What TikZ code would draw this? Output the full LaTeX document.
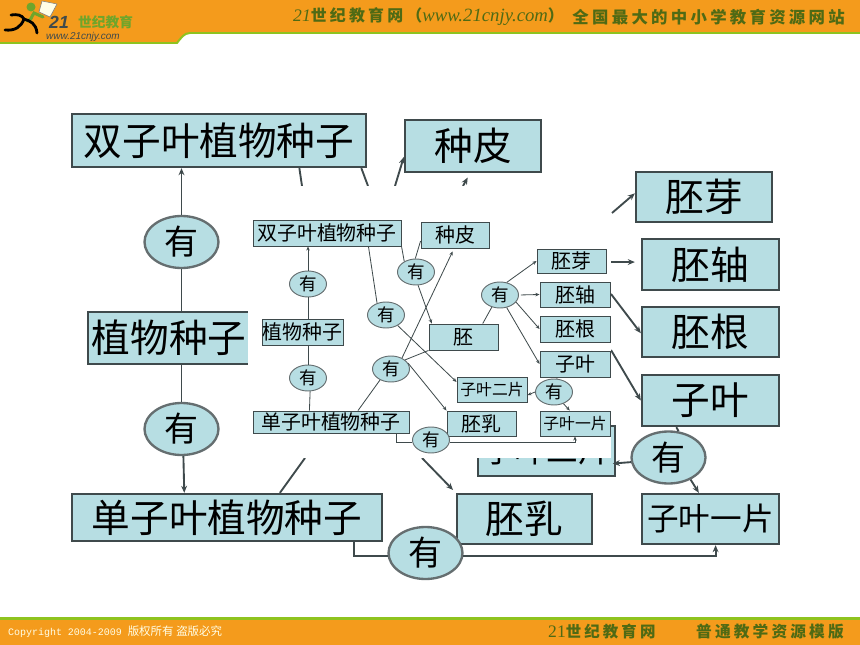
\documentclass[tikz,border=0pt]{standalone}
\usepackage{xcolor}
\usepackage{fontspec}
\usepackage{tikz}
\usetikzlibrary{shapes.geometric, arrows.meta}
\setmainfont{Liberation Serif}
\setsansfont{Liberation Sans}
\setmonofont{Liberation Mono}
\newfontfamily\cjk{Noto Sans CJK SC}
\newfontfamily\cjkwide[LetterSpace=20]{Noto Sans CJK SC}
\definecolor{boxblue}{HTML}{B7DEE3}
\definecolor{bandorange}{HTML}{F49B1C}
\definecolor{bandgreen}{HTML}{8FC31F}
\definecolor{titleolive}{HTML}{4F6A14}
\definecolor{logogreen}{HTML}{6FA52B}
\definecolor{inkgray}{HTML}{3F4A4C}

\begin{document}
\begin{tikzpicture}[x=0.03cm, y=-0.03cm,
            bigbox/.style 2 args={draw=inkgray, line width=2pt, fill=boxblue, rectangle, inner sep=0pt, minimum width=#1*0.03cm, minimum height=#2*0.03cm, font=\cjk\fontsize{33}{35}\selectfont},
            smallbox/.style 2 args={draw=inkgray, line width=0.8pt, fill=boxblue, rectangle, inner sep=0pt, minimum width=#1*0.03cm, minimum height=#2*0.03cm, font=\cjk\fontsize{17}{19}\selectfont},
            bigyou/.style={draw=inkgray!80, line width=2pt, fill=boxblue, ellipse, inner sep=0pt, minimum width=74*0.03cm, minimum height=52*0.03cm, font=\cjk\fontsize{29}{31}\selectfont},
            smallyou/.style={draw=inkgray!80, line width=0.8pt, fill=boxblue, ellipse, inner sep=0pt, minimum width=37*0.03cm, minimum height=26*0.03cm, font=\cjk\fontsize{15}{17}\selectfont},
            bigline/.style={draw=inkgray, line width=1.6pt},
            smallline/.style={draw=inkgray, line width=0.7pt},
            bigarr/.style={bigline, -{Stealth[length=6pt, width=5pt]}},
            smallarr/.style={smallline, -{Stealth[length=3.5pt, width=3pt]}}]

            \useasboundingbox (0,0) rectangle (860,645);

            \fill[bandorange] (0,0) -- (860,0) -- (860,33) -- (190,33) .. controls (184,33) and (181,38) .. (177,43) -- (0,43) -- cycle;
            \draw[bandgreen, line width=1.7pt] (860,33) -- (190,33) .. controls (184,33) and (181,38) .. (177,43) -- (0,43);
            \fill[bandorange] (0,619) rectangle (860,645);
            \fill[bandgreen] (0,616.5) rectangle (860,619.5);

            % logo
            \filldraw[fill=white!90!yellow, draw=gray, line width=0.5pt] (42,1) -- (57,4) -- (50,17) -- (39,12) -- cycle;
            \fill[logogreen] (31,7) circle (4.5);
            \draw[logogreen, line width=2.6pt, line cap=round] (43,17) -- (34,13) .. controls (31,17) and (32,20) .. (27,21);
            \draw[black, line width=2.4pt, line cap=round] (5,30) .. controls (15,31) and (21,27) .. (24,19) .. controls (22,15) and (17,14) .. (11,15);
            \draw[black, line width=2.4pt, line cap=round] (24,19) .. controls (30,21) and (36,23) .. (37,33);
            \node[anchor=west, inner sep=0pt, text=inkgray, font=\sffamily\bfseries\itshape\fontsize{15}{15}\selectfont] (logonum) at (49,22) {21};
            \node[anchor=west, inner sep=0pt, text=logogreen, font=\cjk\bfseries\fontsize{11.7}{12}\selectfont] (logoname) at (78,22) {世纪教育};
            \node[anchor=west, inner sep=0pt, text=inkgray, font=\sffamily\itshape\fontsize{8.5}{9}\selectfont] (logourl) at (46,36.5) {www.21cnjy.com};

            \node[anchor=west, inner sep=0pt, text=titleolive, font=\fontsize{15}{15}\selectfont] (titleleft) at (293,17) {\textit{21}{\cjkwide\bfseries\fontsize{13.6}{15}\selectfont 世纪教育网（}\textit{\fontsize{16}{16}\selectfont www.21cnjy.com}{\cjkwide\bfseries\fontsize{13.6}{15}\selectfont ）}};
            \node[anchor=east, inner sep=0pt, text=titleolive, font=\cjkwide\bfseries\fontsize{14}{15}\selectfont] (titleright) at (845,17) {全国最大的中小学教育资源网站};
            \node[anchor=west, inner sep=0pt, text=white!90!yellow, font=\ttfamily\fontsize{8.5}{10}\selectfont] (copyright) at (8,632) {Copyright 2004-2009 {\cjk\fontsize{9.8}{10}\selectfont 版权所有 盗版必究}};
            \node[anchor=west, inner sep=0pt, text=titleolive, font=\fontsize{15}{15}\selectfont] (footleft) at (548,632) {21{\cjkwide\bfseries\fontsize{13.2}{14}\selectfont 世纪教育网}};
            \node[anchor=east, inner sep=0pt, text=titleolive, font=\cjkwide\bfseries\fontsize{13.4}{15}\selectfont] (footright) at (844,632) {普通教学资源模版};

            \node[bigbox={294}{53}] (bigdicot) at (219,140.5) {双子叶植物种子};
            \node[bigbox={136}{52}] (bigtesta) at (473,146) {种皮};
            \node[bigbox={136}{50}] (bigplumule) at (704,197) {胚芽};
            \node[bigbox={137}{51}] (bigaxis) at (710.5,264.5) {胚轴};
            \node[bigbox={137}{50}] (bigradicle) at (710.5,332) {胚根};
            \node[bigbox={137}{51}] (bigcotyl) at (710.5,400.5) {子叶};
            \node[bigbox={162}{52}] (bigseed) at (169,338) {植物种子};
            \node[bigbox={310}{47}] (bigmonocot) at (227,517.5) {单子叶植物种子};
            \node[bigbox={135}{50}] (bigendo) at (524.5,519) {胚乳};
            \node[bigbox={137}{50}, font=\cjk\fontsize{27}{29}\selectfont] (bigone) at (710.5,519) {子叶一片};
            \node[bigbox={137}{50}, font=\cjk\fontsize{27}{29}\selectfont] (bigtwo) at (546.5,451) {子叶二片};

            \node[bigyou] (bigyoua) at (181.5,242) {有};
            \node[bigyou] (bigyoub) at (181.5,429) {有};
            \node[bigyou] (bigyouc) at (425.5,553) {有};
            \node[bigyou] (bigyoud) at (668.5,457.5) {有};

            \coordinate (cuta) at (302,186);
            \coordinate (cutb) at (368,186);
            \coordinate (cutc) at (395,186);
            \coordinate (cutd) at (463,186);
            \coordinate (cute) at (612,213);
            \coordinate (cutf) at (611,262);
            \coordinate (cutg) at (611,294);
            \coordinate (cuth) at (611,350);
            \coordinate (cuti) at (305,458);
            \coordinate (cutj) at (422,458);

            \draw[bigarr] (bigyoua.north) -- (bigyoua.north |- bigdicot.south);
            \draw[bigline] (bigyoua.south) -- (bigyoua.south |- bigseed.north);
            \draw[bigline] (bigyoub.north |- bigseed.south) -- (bigyoub.north);
            \draw[bigarr] (bigyoub.-86) -- (bigmonocot.150.8);
            \draw[bigline] (bigdicot.-19.5) -- (cuta);
            \draw[bigline] (bigdicot.-11) -- (cutb);
            \draw[bigarr] (cutc) -- (bigtesta.189);
            \draw[bigarr, shorten >=0.15cm] (cutd) -- (bigtesta.-96.6);
            \draw[bigarr] (cute) -- (bigplumule.177.5);
            \draw[bigarr, shorten >=0.18cm] (cutf) -- (bigaxis.178);
            \draw[bigarr] (cutg) -- (bigradicle.181.7);
            \draw[bigarr] (cuth) -- (bigcotyl.west);
            \draw[bigline] (bigyoud.69) -- (bigcotyl.218);
            \draw[bigarr, shorten >=-0.1cm] (bigyoud.187) -- (bigtwo.-10.7);
            \draw[bigarr] (bigyoud.-45) -- (bigone.114.7);
            \draw[bigline] (cuti) -- (bigmonocot.25.6);
            \draw[bigarr, shorten >=0.12cm] (cutj) -- (bigendo.north west);
            \draw[bigline] (bigmonocot.-11.9) |- (bigyouc.184);
            \draw[bigarr] (bigyouc.-4) -| (bigone.-79.8);

            \fill[white] (248,186) rectangle (611,458);

            \node[smallbox={148}{26}] (dicot) at (327,233) {双子叶植物种子};
            \node[smallbox={81}{26}] (seed) at (302.5,332) {植物种子};
            \node[smallbox={156}{22}] (monocot) at (331,422) {单子叶植物种子};
            \node[smallbox={68}{26}] (testa) at (455,235) {种皮};
            \node[smallbox={69}{26}] (embryo) at (463.5,337) {胚};
            \node[smallbox={69}{24}] (plumule) at (571.5,261) {胚芽};
            \node[smallbox={70}{25}] (axis) at (575,294.5) {胚轴};
            \node[smallbox={70}{26}] (radicle) at (575,329) {胚根};
            \node[smallbox={70}{26}] (cotyl) at (575,364) {子叶};
            \node[smallbox={70}{25}, font=\cjk\fontsize{13.5}{15}\selectfont] (twopiece) at (492,389.5) {子叶二片};
            \node[smallbox={69}{25}] (endo) at (481.5,423.5) {胚乳};
            \node[smallbox={70}{25}, font=\cjk\fontsize{13.5}{15}\selectfont] (onepiece) at (575,423.5) {子叶一片};

            \node[smallyou] (youa) at (308,284) {有};
            \node[smallyou] (youb) at (308,378) {有};
            \node[smallyou] (youc) at (386,315) {有};
            \node[smallyou] (youd) at (391,369) {有};
            \node[smallyou] (youe) at (416,272) {有};
            \node[smallyou] (youf) at (500,295) {有};
            \node[smallyou] (youg) at (554,392) {有};
            \node[smallyou] (youh) at (431,440) {有};

            \draw[smallarr] (youa.north) -- (youa.north |- dicot.south);
            \draw[smallline] (youa.south) -- (youa.south |- seed.north);
            \draw[smallline] (youb.north |- seed.south) -- (youb.north);
            \draw[smallline] (youb.-81) -- (monocot.152);
            \draw[smallline] (dicot.-18) -- (youc.127);
            \draw[smallline] (dicot.-10.4) -- (youe.138);
            \draw[smallline] (youe.93) -- (testa.190);
            \draw[smallarr] (youe.-81) -- (embryo.157.6);
            \draw[smallarr] (youc.-42) -- (twopiece.168);
            \draw[smallarr, shorten >=0.1cm] (youd.45) -- (testa.-94);
            \draw[smallline] (youd.33) -- (embryo.south west);
            \draw[smallarr] (youd.19) -- (endo.north west);
            \draw[smallline] (youd.225) -- (monocot.23.7);
            \draw[smallline] (embryo.35) -- (youf.236);
            \draw[smallarr] (youf.62) -- (plumule.west);
            \draw[smallarr, shorten <=0.06cm] (youf.east) -- (axis.west);
            \draw[smallarr] (youf.-24) -- (radicle.west);
            \draw[smallarr] (youf.-62) -- (cotyl.west);
            \draw[smallline] (youg.78) -- (cotyl.217.4);
            \draw[smallarr] (youg.west) -- (twopiece.-9);
            \draw[smallarr] (youg.-51) -- (onepiece.112);
            \draw[smallline] (monocot.-10) |- (youh.188);
            \draw[smallarr] (youh.-8) -| (onepiece.south);
        \end{tikzpicture}
\end{document}
